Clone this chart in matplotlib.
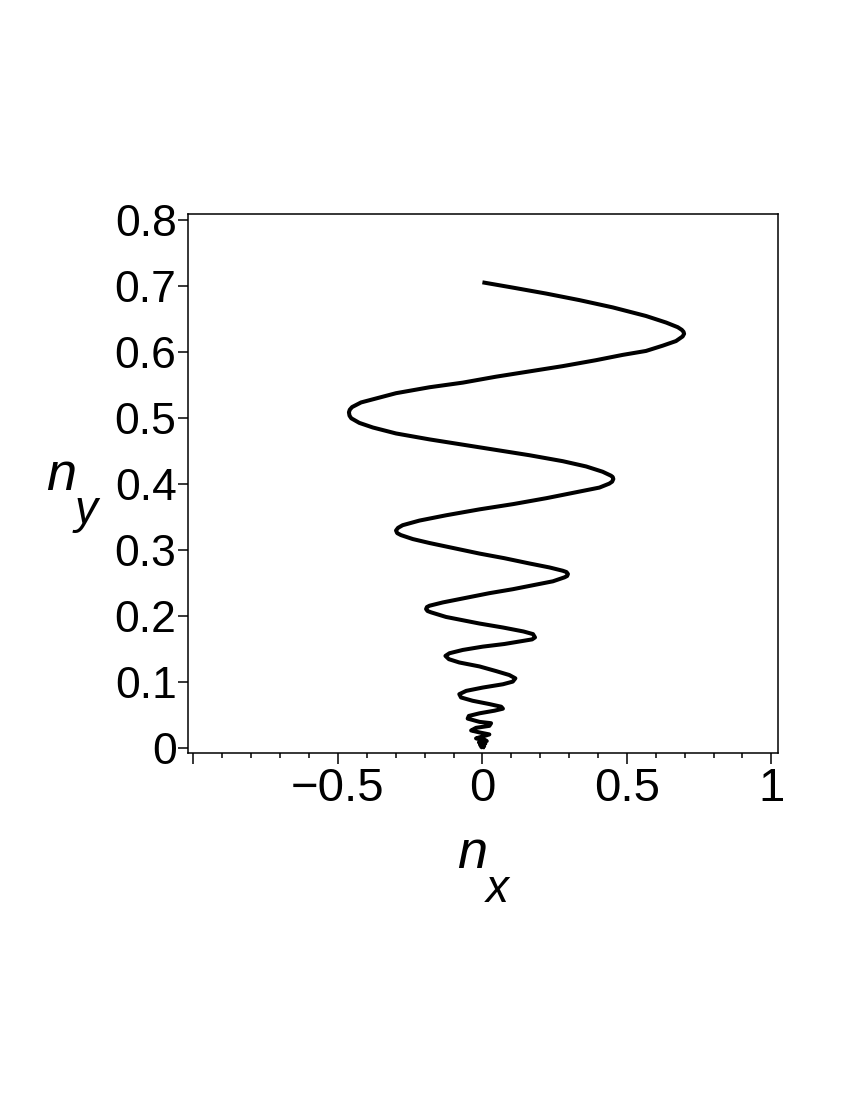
import matplotlib
matplotlib.use("Agg")
import matplotlib.pyplot as plt
from matplotlib.ticker import FixedLocator, NullFormatter

plt.rcParams['font.family'] = ['Liberation Sans', 'DejaVu Sans']

# curve
n_x = [0.000, 0.105, 0.220, 0.336, 0.451, 0.566, 0.636, 0.676, 0.690, 0.696, 0.698, 0.693, 0.670,
       0.624, 0.566, 0.485, 0.393, 0.278, 0.163, 0.047, -0.068, -0.183, -0.299,
       -0.368, -0.420, -0.451, -0.459, -0.462, -0.460, -0.454, -0.426, -0.379, -0.299, -0.183, -0.068,
       0.047, 0.163, 0.278, 0.359, 0.416, 0.445, 0.451, 0.453, 0.449, 0.439, 0.405, 0.336,
       0.222, 0.107, -0.010, -0.126, -0.218, -0.276, -0.292, -0.299, -0.295, -0.282, -0.241, -0.183,
       -0.097, -0.010, 0.076, 0.163, 0.232, 0.278, 0.291, 0.296, 0.293, 0.284, 0.244, 0.175,
       0.105, 0.024, -0.068, -0.137, -0.183, -0.192, -0.195, -0.190, -0.178, -0.126, -0.010, 0.071,
       0.142, 0.175, 0.182, 0.172, 0.145, 0.076, 0.001, -0.068, -0.114, -0.128, -0.116,
       -0.080, -0.010, 0.047, 0.093, 0.114, 0.105, 0.071, 0.001, -0.056, -0.080,
       -0.074, -0.034, 0.024, 0.065, 0.071, 0.042, -0.010, -0.047, -0.051, -0.010,
       0.030, 0.024, -0.022, -0.039, -0.010, 0.024, 0.001, -0.022, 0.007, 0.015,
       -0.012, 0.010, -0.008, 0.006, -0.004, 0.002, 0.000]
n_y = [0.706, 0.698, 0.689, 0.679, 0.668, 0.655, 0.645, 0.638, 0.634, 0.631, 0.628, 0.624, 0.617,
       0.610, 0.602, 0.596, 0.588, 0.579, 0.571, 0.563, 0.554, 0.547, 0.538,
       0.530, 0.524, 0.517, 0.513, 0.509, 0.504, 0.500, 0.493, 0.486, 0.477, 0.468, 0.460,
       0.452, 0.444, 0.435, 0.427, 0.419, 0.413, 0.411, 0.408, 0.404, 0.401, 0.395, 0.389,
       0.379, 0.370, 0.362, 0.353, 0.345, 0.338, 0.334, 0.330, 0.326, 0.323, 0.317, 0.311,
       0.303, 0.295, 0.288, 0.280, 0.274, 0.269, 0.267, 0.264, 0.261, 0.259, 0.253, 0.247,
       0.241, 0.235, 0.227, 0.221, 0.216, 0.214, 0.211, 0.208, 0.206, 0.199, 0.189, 0.183,
       0.177, 0.173, 0.168, 0.165, 0.163, 0.158, 0.154, 0.149, 0.144, 0.140, 0.135,
       0.130, 0.124, 0.117, 0.111, 0.106, 0.101, 0.097, 0.092, 0.087, 0.082,
       0.077, 0.072, 0.067, 0.063, 0.060, 0.057, 0.053, 0.049, 0.045, 0.040,
       0.038, 0.034, 0.031, 0.027, 0.024, 0.021, 0.018, 0.015, 0.013, 0.011,
       0.009, 0.007, 0.005, 0.003, 0.002, 0.001, 0.000]

x_major = [-1.0, -0.5, 0.0, 0.5, 1.0]
x_major_labels = ['', '\u22120.5', '0', '0.5', '1']
x_minor = [-0.9, -0.8, -0.7, -0.6, -0.4, -0.3, -0.2, -0.1,
           0.1, 0.2, 0.3, 0.4, 0.6, 0.7, 0.8, 0.9]
y_ticks = [0.0, 0.1, 0.2, 0.3, 0.4, 0.5, 0.6, 0.7, 0.8]
y_labels = ['0', '0.1', '0.2', '0.3', '0.4', '0.5', '0.6', '0.7', '0.8']

W, H = 850, 1100
fig = plt.figure(figsize=(8.5, 11), dpi=100)
ax = fig.add_axes([187.7 / W, 1 - 753.3 / H, (778 - 187.7) / W, (753.3 - 214) / H])

ax.plot(n_x, n_y, color='black', lw=2.9, solid_capstyle='butt', solid_joinstyle='round')

ax.set_xlim(-1.02, 1.023)
ax.set_ylim(-0.0076, 0.8095)

ax.xaxis.set_major_locator(FixedLocator(x_major))
ax.set_xticklabels(x_major_labels)
ax.xaxis.set_minor_locator(FixedLocator(x_minor))
ax.xaxis.set_minor_formatter(NullFormatter())
ax.yaxis.set_major_locator(FixedLocator(y_ticks))
ax.set_yticklabels(y_labels)

ax.tick_params(axis='x', which='major', direction='out', length=8, width=1.1,
               labelsize=34, pad=2, top=False)
ax.tick_params(axis='x', which='minor', direction='out', length=3.8, width=1.1, top=False)
ax.tick_params(axis='y', which='major', direction='out', length=7, width=1.1,
               labelsize=32, pad=1, right=False)
for s in ax.spines.values():
    s.set_linewidth(1.1)
    s.set_color('black')

# axis labels (n with subscript)
fig.text(472.5 / W, 1 - 868 / H, 'n', fontsize=39, style='italic', ha='center', va='baseline')
fig.text(497.5 / W, 1 - 902 / H, 'x', fontsize=33, style='italic', ha='center', va='baseline')
fig.text(61.5 / W, 1 - 490 / H, 'n', fontsize=39, style='italic', ha='center', va='baseline')
fig.text(86.5 / W, 1 - 523 / H, 'y', fontsize=33, style='italic', ha='center', va='baseline')

fig.savefig('out.png', dpi=100)
